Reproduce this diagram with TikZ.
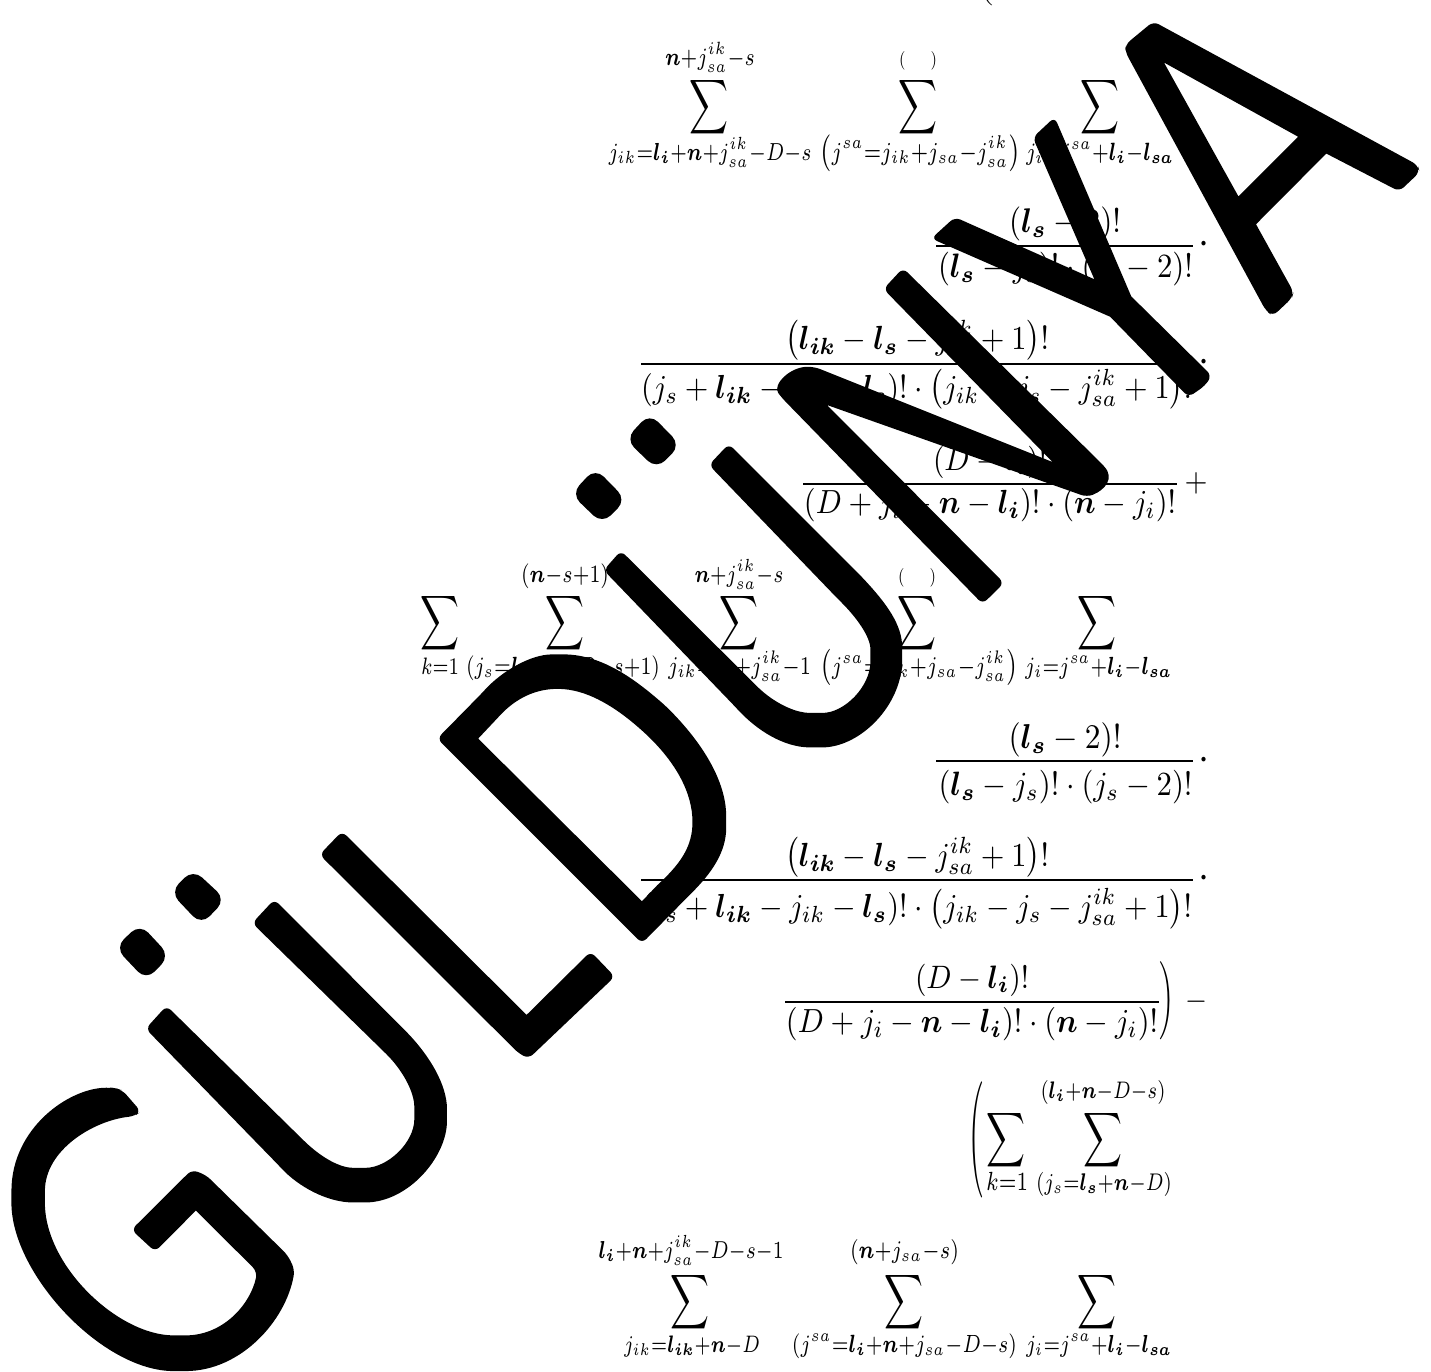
\documentclass[tikz,border=0pt]{standalone}
\usepackage{amsmath,amssymb,graphicx}
\newcommand\bl[1]{\boldsymbol{#1}}
\newcommand\lmt[2]{\scalebox{1}[1.3]{\resizebox{#1pt}{!}{$\scriptstyle #2$}}}
\newcommand\mth[2]{\scalebox{1}[1.1]{\resizebox{#1pt}{!}{$#2$}}}
\newcommand\bigsum{\resizebox*{39pt}{61pt}{$\displaystyle\sum$}}
\newcommand\jik{j_{ik}}
\newcommand\jsaik{j_{sa}^{ik}}
\newcommand\lik{\bl{l}_{\bl{ik}}}
\newcommand\ls{\bl{l}_{\bl{s}}}
\newcommand\li{\bl{l}_{\bl{i}}}
\newcommand\lsa{\bl{l}_{\bl{sa}}}
\newcommand\nn{\bl{n}}
\tikzset{
  t/.style={inner sep=0pt,anchor=base},
  sg/.style={inner sep=0pt,anchor=center},
  fracrule/.style={line width=2.8pt},
  wm/.style={fill=black,rounded corners=6pt,even odd rule},
  sc/.style={sharp corners},
  rc/.style={rounded corners=6pt},
  dotmark/.style={fill=black,rounded corners=12pt}
}
\begin{document}
\begin{tikzpicture}[x=1pt,y=-1pt]
\useasboundingbox (0,0) rectangle (1431,1371);
\fill[white] (0,0) rectangle (1431,1371);

% cropped line at top
\node[sg] (topa) at (986,-11) {\resizebox*{14pt}{34pt}{$\Bigl($}};

% group 1
\node[sg] (s1) at (709,107.5) {\bigsum};
\node[sg] (s2) at (918,107.5) {\bigsum};
\node[sg] (s3) at (1100,107.5) {\bigsum};
\node[t] (u1) at (710,65) {\lmt{90}{\nn+\jsaik-s}};
\node[t] (u2) at (918,65) {\lmt{38}{(\quad\;)}};
\node[t] (b1) at (710,160) {\lmt{203}{\jik=\li+\nn+\jsaik-D-s}};
\node[t] (b2) at (920,160) {\lmt{199}{\left(j^{sa}=\jik+j_{sa}-\jsaik\right)}};
\node[t] (b3) at (1100,160) {\lmt{148}{j_i=j^{sa}+\li-\lsa}};

% fraction A
\draw[fracrule] (936,246) coordinate (fal) -- (1193,246) coordinate (far);
\node[t] (an) at (1065,232) {\mth{112}{(\ls-2)!}};
\node[t] (ad) at (1065.5,277) {\mth{255}{(\ls-j_s)!\cdot(j_s-2)!}};
\node[t] (adot) at (1204,254) {\mth{11}{\cdot}};

% fraction B
\draw[fracrule] (641,364) coordinate (fbl) -- (1193,364) coordinate (fbr);
\node[t] (bn) at (917,349) {\mth{264}{\bigl(\lik-\ls-\jsaik+1\bigr)!}};
\node[t] (bd) at (916.5,398) {\mth{551}{(j_s+\lik-\jik-\ls)!\cdot\bigl(\jik-j_s-\jsaik+1\bigr)!}};
\node[t] (bdot) at (1204,372) {\mth{11}{\cdot}};

% fraction C
\draw[fracrule] (803,484) coordinate (fcl) -- (1177,484) coordinate (fcr);
\node[t] (cn) at (990,470) {\mth{114}{(D-\li)!}};
\node[t] (cd) at (990,513) {\mth{372}{(D+j_i-\nn-\li)!\cdot(\nn-j_i)!}};
\node[t] (cp) at (1196,491.5) {\mth{23}{+}};

% group 2
\node[sg] (s4) at (440,623) {\bigsum};
\node[sg] (s5) at (565,623) {\bigsum};
\node[sg] (s6) at (739,623) {\bigsum};
\node[sg] (s7) at (917,623) {\bigsum};
\node[sg] (s8) at (1097,623) {\bigsum};
\node[t] (u5) at (565,582) {\lmt{88}{(\nn-s+1)}};
\node[t] (u6) at (739,582) {\lmt{89}{\nn+\jsaik-s}};
\node[t] (u7) at (917,582) {\lmt{38}{(\quad\;)}};
\node[t] (b4) at (440,674) {\lmt{38}{k=1}};
\node[t] (b5) at (563,674) {\lmt{194}{\left(j_s=\li+\nn-D-s+1\right)}};
\node[t] (b6) at (739.5,674) {\lmt{143}{\jik=j_s+\jsaik-1}};
\node[t] (b7) at (919,674) {\lmt{196}{\left(j^{sa}=\jik+j_{sa}-\jsaik\right)}};
\node[t] (b8) at (1098.5,674) {\lmt{147}{j_i=j^{sa}+\li-\lsa}};

% fraction D
\draw[fracrule] (936,761) coordinate (fdl) -- (1193,761) coordinate (fdr);
\node[t] (dn) at (1065,748) {\mth{113}{(\ls-2)!}};
\node[t] (dd) at (1065.5,795) {\mth{254}{(\ls-j_s)!\cdot(j_s-2)!}};
\node[t] (ddot) at (1204,770) {\mth{11}{\cdot}};

% fraction E
\draw[fracrule] (641,880) coordinate (fel) -- (1193,880) coordinate (fer);
\node[t] (en) at (917,866) {\mth{264}{\bigl(\lik-\ls-\jsaik+1\bigr)!}};
\node[t] (ed) at (916.5,917) {\mth{551}{(j_s+\lik-\jik-\ls)!\cdot\bigl(\jik-j_s-\jsaik+1\bigr)!}};
\node[t] (edot) at (1204,888) {\mth{11}{\cdot}};

% fraction F
\draw[fracrule] (785,1002) coordinate (ffl) -- (1159,1002) coordinate (ffr);
\node[t] (fn) at (972,988) {\mth{114}{(D-\li)!}};
\node[t] (fd) at (972,1032) {\mth{372}{(D+j_i-\nn-\li)!\cdot(\nn-j_i)!}};
\node[sg] (rp) at (1167,1001) {\resizebox*{15pt}{78pt}{$\Bigr)$}};
\node[t] (fm) at (1196,1009) {\mth{22}{-}};

% group 3
\node[sg] (lp) at (976,1140) {\resizebox*{15pt}{116pt}{$\Bigl($}};
\node[sg] (s9) at (1006,1140) {\bigsum};
\node[sg] (s10) at (1103,1140) {\bigsum};
\node[t] (u10) at (1103,1098) {\lmt{125}{(\li+\nn-D-s)}};
\node[t] (b9) at (1007,1190) {\lmt{42}{k=1}};
\node[t] (b10) at (1104,1190) {\lmt{136}{(j_s=\ls+\nn-D)}};

\node[sg] (s11) at (690,1302) {\bigsum};
\node[sg] (s12) at (904,1302) {\bigsum};
\node[sg] (s13) at (1097,1302) {\bigsum};
\node[t] (u11) at (691,1258) {\lmt{185}{\li+\nn+\jsaik-D-s-1}};
\node[t] (u12) at (904.5,1258) {\lmt{109}{(\nn+j_{sa}-s)}};
\node[t] (b11) at (692,1352) {\lmt{136}{\jik=\lik+\nn-D}};
\node[t] (b12) at (904.5,1352) {\lmt{225}{(j^{sa}=\li+\nn+j_{sa}-D-s)}};
\node[t] (b13) at (1099,1352) {\lmt{146}{j_i=j^{sa}+\li-\lsa}};

% watermark: A, Y (crop frame 4)
\begin{scope}[shift={(880,0)},x=0.3514pt,y=-0.3571pt]
\fill[wm] (778,60) -- (1530,462) -- (1536,482) -- (1478,536) [sc] -- (1270,430) -- (1070,628) [rc] -- (1177,818) -- (1172,835) -- (1118,885) -- (1098,870) -- (698,145) -- (698,125) -- cycle
  [sc] (808,175) -- (1190,383) -- (1020,550) -- cycle;
\fill[wm] (497,328) [sc] -- (715,830) [rc] -- (944,1052) -- (925,1080) -- (878,1112) [sc] -- (655,887) [rc] -- (146,668) -- (213,608) [sc] -- (610,782) [rc] -- (435,385) -- cycle;
\end{scope}
% N
\fill[wm] (903,268) -- (1100,462) .. controls (1115,478) and (1105,490) .. (1087,497) [sc] -- (827,405) [rc] -- (1004,583) -- (982.6,604) -- (782,398) .. controls (772,385) and (790,366) .. (815,367) [sc] -- (1052.5,462) [rc] -- (883.5,289) -- cycle;
% U, dots, D (crop frame 5)
\begin{scope}[shift={(420,380)},x=0.3827pt,y=-0.3827pt]
\fill[wm] (807,167) -- (1150,510) .. controls (1220,585) and (1260,640) .. (1260,715) .. controls (1260,850) and (1150,960) .. (1035,960) .. controls (950,960) and (880,915) .. (820,850) -- (480,497) -- (525,446) -- (890,810) .. controls (940,850) and (985,870) .. (1035,870) .. controls (1110,870) and (1177,800) .. (1177,720) .. controls (1177,670) and (1140,620) .. (1090,570) -- (755,222) -- cycle;
\fill[dotmark] (600,87) -- (681,170) -- (618,233) -- (537,155) -- cycle;
\fill[dotmark] (458,230) -- (539,313) -- (476,376) -- (395,298) -- cycle;
\fill[wm] (45,937) -- (160,820) .. controls (215,760) and (290,717) .. (360,717) .. controls (480,717) and (570,790) .. (640,850) .. controls (740,950) and (800,1050) .. (800,1155) .. controls (800,1235) and (760,1290) .. (700,1350) -- (580,1472) -- cycle
  [sc] (152,937) -- (215,870) .. controls (260,825) and (310,807) .. (360,807) .. controls (440,807) and (520,860) .. (590,925) .. controls (670,1000) and (712,1080) .. (712,1155) .. controls (712,1220) and (680,1265) .. (620,1320) -- (580,1362) -- cycle;
\end{scope}
% G, U, dots, L (crop frame 6)
\begin{scope}[shift={(0,800)},x=0.4082pt,y=-0.3642pt]
\fill[wm] (838,86) [sc] -- (1290,590) [rc] -- (1447,416) -- (1506,485) -- (1295,710) -- (1270,695) -- (783,150) -- cycle;
\fill[wm] (672,273) -- (990,630) .. controls (1050,700) and (1095,780) .. (1095,865) .. controls (1095,980) and (1000,1105) .. (880,1105) .. controls (800,1105) and (730,1060) .. (680,1000) -- (357,628) -- (408,565) -- (735,925) .. controls (790,985) and (835,1010) .. (880,1010) .. controls (950,1010) and (1015,940) .. (1015,860) .. controls (1015,800) and (985,740) .. (935,685) -- (618,338) -- cycle;
\fill[dotmark] (473,190) -- (553,273) -- (493,343) -- (417,253) -- cycle;
\fill[dotmark] (343,340) -- (416,428) -- (358,495) -- (282,405) -- cycle;
\fill[wm] (285,792) -- (300,797) -- (345,855) -- (330,868) .. controls (230,880) and (110,960) .. (110,1090) .. controls (110,1280) and (290,1470) .. (440,1470) .. controls (550,1470) and (615,1380) .. (630,1295) [sc] -- (480,1127) [rc] -- (380,1240) -- (322,1180) -- (470,1015) -- (505,1030) -- (705,1250) -- (722,1290) .. controls (700,1430) and (590,1568) .. (440,1568) .. controls (250,1568) and (28,1300) .. (28,1090) .. controls (28,900) and (170,790) .. (275,790) -- cycle;
\end{scope}
\end{tikzpicture}
\end{document}
